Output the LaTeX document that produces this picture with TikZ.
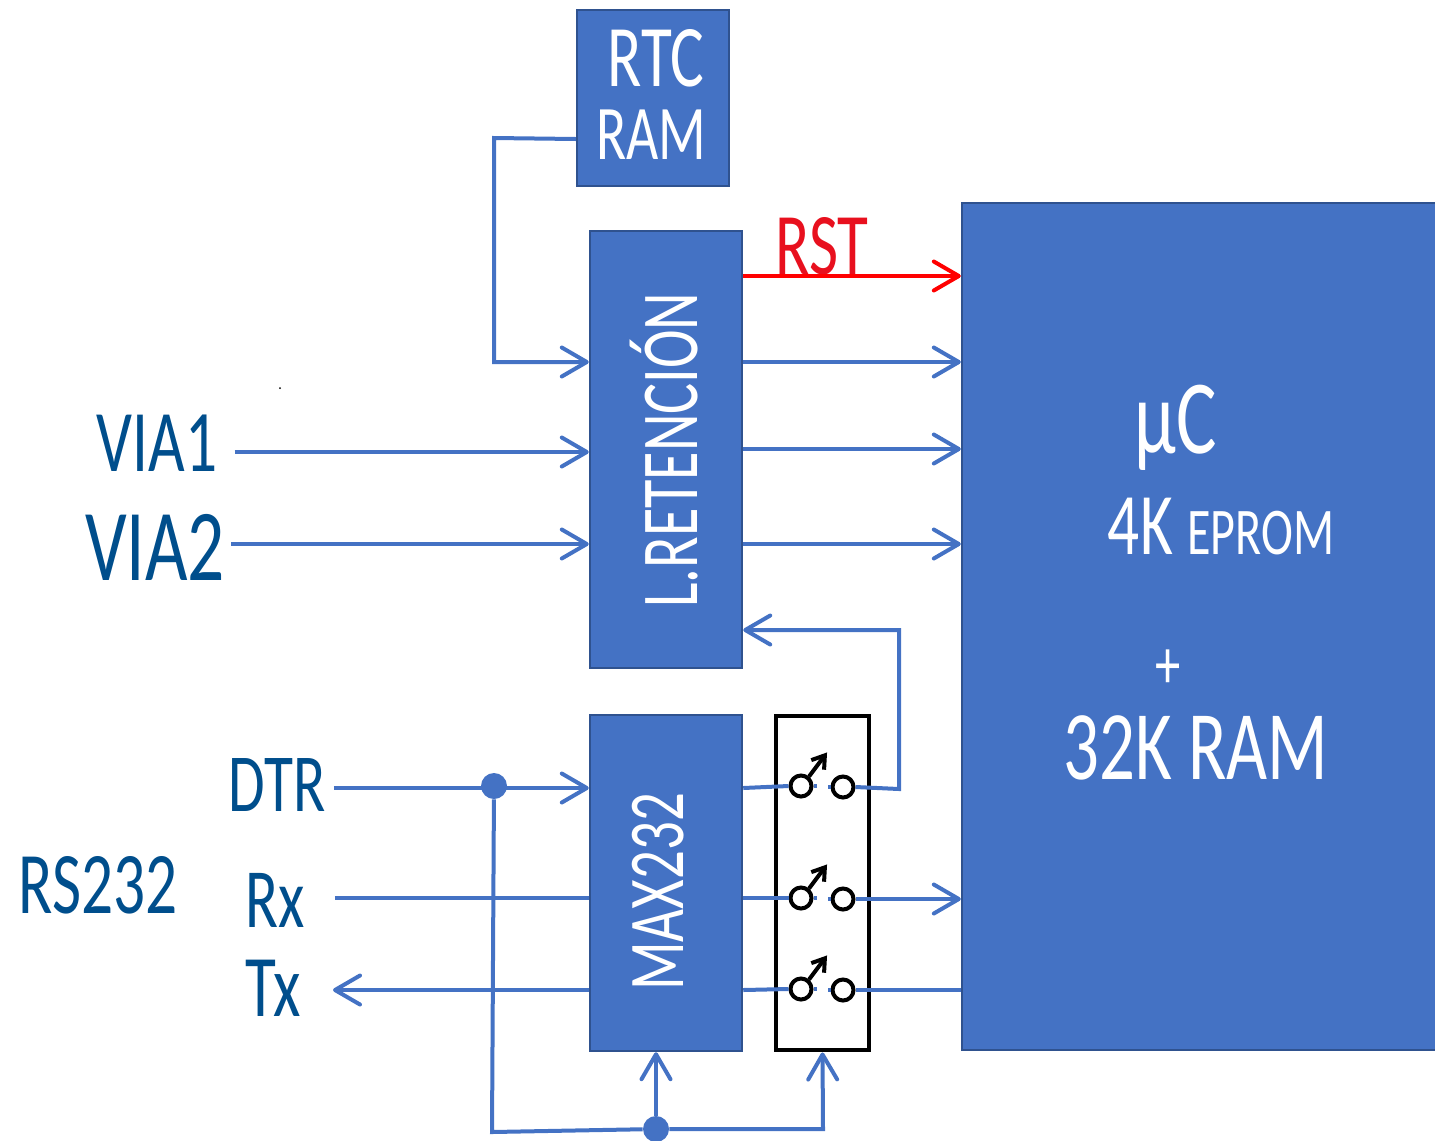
\documentclass[tikz,border=0pt]{standalone}
\usepackage{fontspec}
\usepackage{tikz}
\usetikzlibrary{arrows.meta}
\newfontfamily\handfont[FakeStretch=0.72]{Carlito}
\definecolor{boxfill}{HTML}{4472C4}
\definecolor{boxline}{HTML}{2F528F}
\definecolor{inkblue}{HTML}{004E8C}
\definecolor{inkred}{HTML}{E8101E}

\begin{document}
\begin{tikzpicture}[x=0.02cm,y=-0.02cm]
\tikzstyle{bluebox}=[draw=boxline,fill=boxfill,line width=0.05cm,inner sep=0pt,text=white];
\tikzstyle{wire}=[draw=boxfill,line width=0.08cm];
\tikzstyle{barb}=[wire,-{Straight Barb[length=0.5cm,width=0.58cm,line width=0.08cm,round]}];
\tikzstyle{joint}=[circle,fill=boxfill,minimum size=0.52cm,inner sep=0pt];
\tikzstyle{contact}=[circle,draw=black,line width=0.08cm,minimum size=0.42cm,inner sep=0pt];
\tikzstyle{label}=[inner sep=0pt,text=inkblue,font=\handfont\fontsize{58}{58}\selectfont];
\tikzstyle{white label}=[inner sep=0pt,text=white,font=\handfont\fontsize{58}{58}\selectfont];
\useasboundingbox (0,0) rectangle (1435,1140);

% boxes
\node[bluebox,minimum width=3.04cm,minimum height=3.52cm] (rtc) at (653,98) {};
\node[bluebox,minimum width=3.04cm,minimum height=8.74cm] (ret) at (666,449.5) {};
\node[bluebox,minimum width=3.04cm,minimum height=6.72cm] (max) at (666,883) {};
\node[draw=black,line width=0.08cm,minimum width=1.86cm,minimum height=6.7cm,inner sep=0pt] (sw) at (822.5,883) {};
\node[bluebox,minimum width=9.6cm,minimum height=16.94cm] (mc) at (1202,626.5) {};

% texts in the boxes
\node[white label,font=\handfont\fontsize{50}{50}\selectfont] (rtctext) at (656,58) {RTC};
\node[white label,font=\handfont\fontsize{44}{44}\selectfont] (ramtext) at (651,135) {RAM};
\node[white label,rotate=90,font=\handfont\fontsize{46}{46}\selectfont] (rettext) at (664,450) {L.RETENCIÓN};
\node[white label,rotate=90,font=\handfont\fontsize{45}{45}\selectfont] (maxtext) at (658,892) {MAX232};
\node[white label,font=\handfont\fontsize{60}{60}\selectfont] (mutext) at (1176,428) {μC};
\node[white label,font=\handfont\fontsize{50}{50}\selectfont] (eprom) at (1221,527) {4K {\fontsize{38}{38}\selectfont EPROM}};
\node[white label,font=\handfont\fontsize{40}{40}\selectfont] (plus) at (1168,669) {+};
\node[white label,font=\handfont\fontsize{56}{56}\selectfont] (ramsize) at (1196,748) {32K RAM};

% texts outside
\node[label,font=\handfont\fontsize{50}{50}\selectfont] (via1) at (157,443) {VIA1};
\node[label] (via2) at (155,547) {VIA2};
\node[label,font=\handfont\fontsize{47}{47}\selectfont] (dtr) at (277,785) {DTR};
\node[label,font=\handfont\fontsize{50}{50}\selectfont] (rs232) at (98,885) {RS232};
\node[label,font=\handfont\fontsize{48}{48}\selectfont] (rx) at (275,900) {Rx};
\node[label,font=\handfont\fontsize{50}{50}\selectfont] (tx) at (273,988) {Tx};
\node[label,text=inkred,font=\handfont\fontsize{50}{50}\selectfont] (rst) at (822,246) {RST};
\node[circle,fill=black,inner sep=0pt,minimum size=0.04cm] (speck) at (280,388) {};

% switches
\foreach \n/\y in {a/786,b/898,c/989} {
	\node[contact] (in\n) at (801,\y) {};
	\node[contact] (out\n) at (843,\y+1) {};
	\draw[line width=0.08cm,-{Straight Barb[length=0.24cm,width=0.32cm,line width=0.08cm]}] (in\n.50) -- ++(18,-24);
	\draw[wire] (in\n.east) -- ++(3,0);
	\draw[wire] (out\n.west) -- ++(-3,0);
}

% joints
\node[joint] (dtrdot) at (494,786) {};
\node[joint] (busdot) at (656,1129) {};

% inputs
\coordinate (rtcout) at (rtc.west |- 0,139);
\coordinate (rtcin) at (ret.west |- 0,362);
\draw[barb] (rtcout) -- (494,138) -- (494,362) -- (rtcin);
\draw[barb] (via1.east |- 0,452) ++(17,0) -- (ret.west |- 0,452);
\draw[barb] (via2.east |- 0,544) ++(6,0) -- (ret.west |- 0,544);
\draw[barb] (dtr.east |- 0,788) ++(8,0) -- (max.west |- 0,788);
\draw[wire] (rx.east |- 0,898) ++(30,0) -- (max.west |- 0,898);
\draw[barb] (max.west |- 0,990) -- (333,990);

% outputs
\draw[-{Straight Barb[length=0.5cm,width=0.58cm,line width=0.08cm,round]},draw=red,line width=0.08cm] (ret.east |- 0,276) -- (mc.west |- 0,276);
\draw[barb] (ret.east |- 0,362) -- (mc.west |- 0,362);
\draw[barb] (ret.east |- 0,449) -- (mc.west |- 0,449);
\draw[barb] (ret.east |- 0,544) -- (mc.west |- 0,544);

% through the switches
\draw[wire] (max.east |- 0,788) -- (ina.west);
\draw[barb] (outa.east) -- (899,789) -- (899,630) -- (ret.east |- 0,630);
\draw[wire] (max.east |- 0,898) -- (inb.west);
\draw[barb] (outb.east) -- (mc.west |- outb);
\draw[wire] (max.east |- 0,990) -- (inc.west);
\draw[wire] (outc.east) -- (mc.west |- outc);

% control bus
\draw[wire] (dtrdot) -- (492,1132) -- (busdot);
\draw[barb] (busdot) -- (max.south -| busdot);
\draw[barb] (busdot) -- (823,1129) -- (sw.south);
\end{tikzpicture}
\end{document}
